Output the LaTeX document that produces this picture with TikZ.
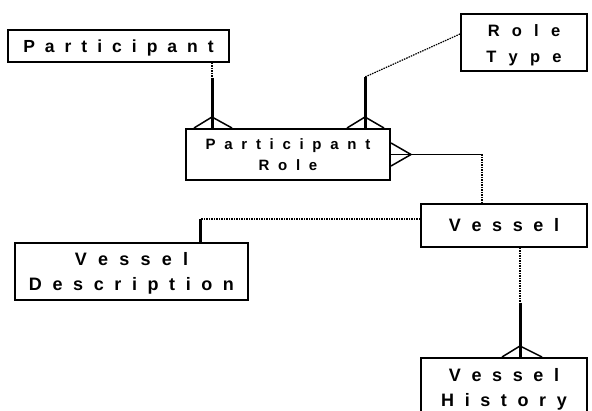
\documentclass[tikz,border=0pt]{standalone}
\usepackage{fontspec}
\setmainfont{Liberation Sans}
\usetikzlibrary{calc}

% letter-spaced words: \spaced{gap}{Word}
\newdimen\lsgap
\def\spaced#1#2{\lsgap=#1\relax\spacedA#2\relax}
\def\spacedA#1{#1\spacedB}
\def\spacedB#1{\ifx#1\relax\else\kern\lsgap#1\expandafter\spacedB\fi}

\tikzset{
  entity/.style={draw, line width=2pt, inner sep=0pt, align=center},
  dotline/.style={line width=2pt, dash pattern=on 1.5pt off 1pt},
  thindot/.style={line width=1.2pt, dash pattern=on 1.5pt off 1pt},
  solidline/.style={line width=3pt},
  thinline/.style={line width=1.5pt},
  crow/.style={line width=1.5pt, line join=miter},
}

\begin{document}
\begin{tikzpicture}[x=1pt, y=-1pt]
\useasboundingbox (0,0) rectangle (592,411);
\fill[white] (0,0) rectangle (592,411);
\clip (0,0) rectangle (592,411);

% entities
\node[entity, minimum width=221pt, minimum height=32pt,
      font=\fontsize{17.5}{20}\selectfont\bfseries] (part) at (118.5,46)
  {\rule{0pt}{16.8pt}\spaced{10pt}{Participant}};
\node[entity, minimum width=126pt, minimum height=57pt,
      font=\fontsize{16.5}{26}\selectfont\bfseries] (rt) at (524,42.5)
  {\rule{0pt}{18pt}\spaced{12.2pt}{Role}\\\spaced{12.2pt}{Type}};
\node[entity, minimum width=204pt, minimum height=51pt,
      font=\fontsize{15}{21}\selectfont\bfseries] (pr) at (288,154.5)
  {\spaced{8.7pt}{Participant}\\\spaced{8.7pt}{Role}};
\node[entity, minimum width=166pt, minimum height=43pt,
      font=\fontsize{18}{20}\selectfont\bfseries] (ves) at (504,225.5)
  {\spaced{10.6pt}{Vessel}};
\node[entity, minimum width=233pt, minimum height=57pt,
      font=\fontsize{18}{25}\selectfont\bfseries] (vd) at (131.5,271.5)
  {\rule{0pt}{16pt}\spaced{11.2pt}{Vessel}\\\spaced{10.6pt}{Description}};
\node[entity, minimum width=166pt, minimum height=62pt,
      font=\fontsize{18}{25}\selectfont\bfseries] (vh) at (504,389)
  {\spaced{10.6pt}{Vessel}\\\spaced{10.6pt}{History}};

% Participant -- Participant Role
\coordinate (pj) at (212,78);
\draw[dotline] (part.south -| pj) -- (pj);
\draw[solidline] (pj) -- (pj |- pr.north);
\draw[crow] ($(pj |- pr.north)+(-18,0)$) -- ++(18,-11) -- ++(20,11);

% Role Type -- Participant Role
\coordinate (rj) at (365,77);
\draw[thindot] ($(rt.west)+(0,-8.5)$) -- (rj);
\draw[solidline] (rj) -- (rj |- pr.north);
\draw[crow] ($(rj |- pr.north)+(-18,0)$) -- ++(18,-11) -- ++(19,11);

% Participant Role -- Vessel
\coordinate (vj) at (481.5,154.5);
\draw[thinline] (pr.east) -- (pr.east -| vj);
\draw[dotline] (pr.east -| vj) -- (vj |- ves.north);
\draw[crow] ($(pr.east)+(0,-11.5)$) -- ++(20,11.5) -- ++(-20,11.5);

% Vessel -- Vessel Description
\coordinate (dj) at (200,219);
\draw[dotline] (dj -| ves.west) -- (dj);
\draw[solidline] (dj) -- (dj |- vd.north);

% Vessel -- Vessel History
\coordinate (hj) at (520,303);
\draw[dotline] (hj |- ves.south) -- (hj);
\draw[solidline] (hj) -- (hj |- vh.north);
\draw[crow] ($(hj |- vh.north)+(-18,0)$) -- ++(18,-11) -- ++(22,11);
\end{tikzpicture}
\end{document}
